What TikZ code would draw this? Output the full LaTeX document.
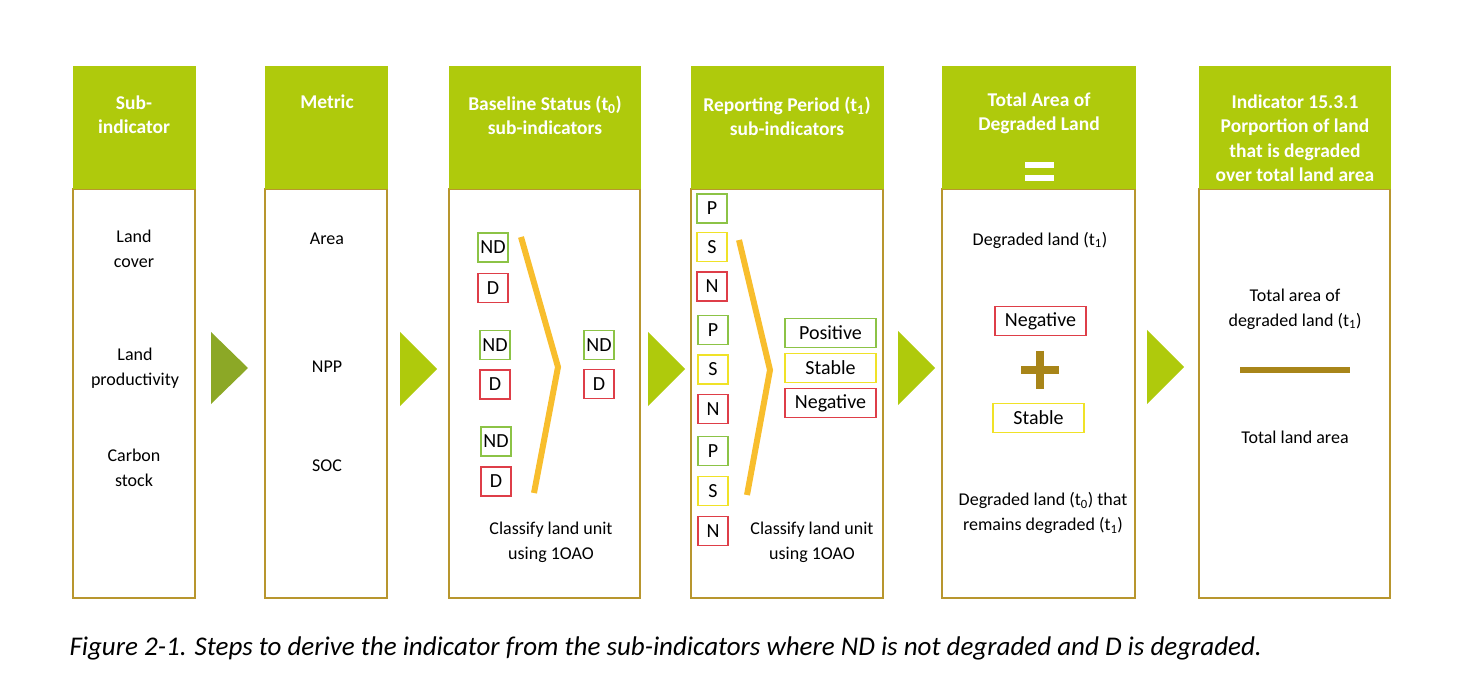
\documentclass[tikz,border=0pt]{standalone}
\usepackage{fontspec}
\setmainfont{Carlito}
\usetikzlibrary{positioning}

\definecolor{lime}{RGB}{175,202,12}
\definecolor{olive}{RGB}{140,168,38}
\definecolor{goldline}{RGB}{184,150,46}
\definecolor{chev}{RGB}{248,190,45}
\definecolor{okgreen}{RGB}{140,195,70}
\definecolor{badred}{RGB}{222,62,72}
\definecolor{stabyel}{RGB}{240,226,40}
\definecolor{plusgold}{RGB}{168,133,25}

\begin{document}
\begin{tikzpicture}[x=1pt, y=-1pt,
  hdr/.style={fill=lime, minimum height=123, inner sep=0pt},
  hdtxt/.style={text=white, align=center, anchor=north,
                font=\fontsize{19.5}{24.5}\selectfont\bfseries},
  bdy/.style={draw=goldline, line width=2pt, minimum height=409, inner sep=0pt},
  txt/.style={align=center, font=\fontsize{18}{25}\selectfont},
  sb/.style={draw, line width=1.5pt, minimum width=30, minimum height=29,
             inner sep=0pt, font=\fontsize{20}{20}\selectfont},
  wb/.style={sb, minimum width=91},
  chv/.style={draw=chev, line width=6pt},
  tri/.style={fill=lime}
]
  \useasboundingbox (0,0) rectangle (1464,700);

  % Column bodies
  \node[bdy, minimum width=122] (bd1) at (134,393.5) {};
  \node[bdy, minimum width=122] (bd2) at (326,393.5) {};
  \node[bdy, minimum width=191] (bd3) at (544.5,393.5) {};
  \node[bdy, minimum width=192] (bd4) at (787,393.5) {};
  \node[bdy, minimum width=193] (bd5) at (1038.5,393.5) {};
  \node[bdy, minimum width=191] (bd6) at (1294.5,393.5) {};

  % Column headers
  \node[hdr, minimum width=123] (hd1) at (134,127.5) {};
  \node[hdr, minimum width=123] (hd2) at (326,127.5) {};
  \node[hdr, minimum width=192] (hd3) at (544.5,127.5) {};
  \node[hdr, minimum width=193] (hd4) at (787,127.5) {};
  \node[hdr, minimum width=194] (hd5) at (1038.5,127.5) {};
  \node[hdr, minimum width=192] (hd6) at (1294.5,127.5) {};

  \node[hdtxt] (ht1) at (134,92) {Sub-\\indicator};
  \node[hdtxt] (ht2) at (327,91) {Metric};
  \node[hdtxt] (ht3) at (545,92) {Baseline Status (t\textsubscript{0})\\sub-indicators};
  \node[hdtxt] (ht4) at (787,93) {Reporting Period (t\textsubscript{1})\\sub-indicators};
  \node[hdtxt] (ht5) at (1039,89) {Total Area of\\Degraded Land};
  \node[hdtxt] (ht6) at (1295,91) {Indicator 15.3.1\\Porportion of land\\that is degraded\\over total land area};
  % equals sign
  \fill[white] (1025,162) rectangle (1054,168);
  \fill[white] (1025,175) rectangle (1054,181);

  % Arrows between columns
  \fill[olive] (211,332) -- (248,368) -- (211,404) -- cycle;
  \fill[tri] (400,332) -- (437,369) -- (400,406) -- cycle;
  \fill[tri] (648,332) -- (685,369) -- (648,406) -- cycle;
  \fill[tri] (898,331) -- (935,368) -- (898,405) -- cycle;
  \fill[tri] (1147,330) -- (1184,367) -- (1147,404) -- cycle;

  % Sub-indicator
  \node[txt] (lc) at (134,249) {Land\\cover};
  \node[txt] (lp) at (135,368) {Land\\productivity};
  \node[txt] (cs) at (134,468) {Carbon\\stock};

  % Metric
  \node[txt] (ar) at (327,239) {Area};
  \node[txt] (np) at (327,367) {NPP};
  \node[txt] (so) at (327,466) {SOC};

  % Baseline status
  \node[sb, draw=okgreen] (nd1) at (493,247.5) {ND};
  \node[sb, draw=badred] (d1) at (493,288) {D};
  \node[sb, draw=okgreen] (nd2) at (495,345) {ND};
  \node[sb, draw=badred] (d2) at (495,384.5) {D};
  \node[sb, draw=okgreen] (nd3) at (496,441.5) {ND};
  \node[sb, draw=badred] (d3) at (496,481.5) {D};
  \draw[chv] (521,237) -- (558,367) -- (534,493);
  \node[sb, draw=okgreen] (ndr) at (599,345) {ND};
  \node[sb, draw=badred] (dr) at (599,384) {D};
  \node[txt] (cl3) at (551,542) {Classify land unit\\using 1OAO};

  % Reporting period
  \node[sb, draw=okgreen] (p1) at (712,208.5) {P};
  \node[sb, draw=stabyel] (s1) at (712,247) {S};
  \node[sb, draw=badred] (n1) at (712,286.5) {N};
  \node[sb, draw=okgreen] (p2) at (713,330) {P};
  \node[sb, draw=stabyel] (s2) at (713,369.5) {S};
  \node[sb, draw=badred] (n2) at (713,409) {N};
  \node[sb, draw=okgreen] (p3) at (713,451) {P};
  \node[sb, draw=stabyel] (s3) at (713,491) {S};
  \node[sb, draw=badred] (n3) at (713,531) {N};
  \draw[chv] (739,240) -- (770,370) -- (747,495);
  \node[wb, draw=okgreen] (pos) at (830.5,333) {Positive};
  \node[wb, draw=stabyel] (stb) at (830.5,368) {Stable};
  \node[wb, draw=badred] (neg) at (830.5,403) {Negative};
  \node[txt] (cl4) at (812,542) {Classify land unit\\using 1OAO};

  % Total area of degraded land
  \node[txt] (dl1) at (1040,240) {Degraded land (t\textsubscript{1})};
  \node[wb, draw=badred] (neg5) at (1040.5,321) {Negative};
  \draw[plusgold, line width=8pt] (1021,370) -- (1059,370);
  \draw[plusgold, line width=8pt] (1040,351) -- (1040,389);
  \node[wb, draw=stabyel] (stb5) at (1038.5,418) {Stable};
  \node[txt] (dl0) at (1043,513) {Degraded land (t\textsubscript{0}) that\\remains degraded (t\textsubscript{1})};

  % Indicator
  \node[txt] (num) at (1295,309) {Total area of\\degraded land (t\textsubscript{1})};
  \draw[plusgold, line width=6pt] (1240,370) -- (1350,370);
  \node[txt] (den) at (1295,437) {Total land area};

  % Caption
  \node[anchor=west, font=\fontsize{27}{30}\selectfont\itshape] (cap) at (66,648)
    {Figure 2-1. Steps to derive the indicator from the sub-indicators where ND is not degraded and D is degraded.};
\end{tikzpicture}
\end{document}
